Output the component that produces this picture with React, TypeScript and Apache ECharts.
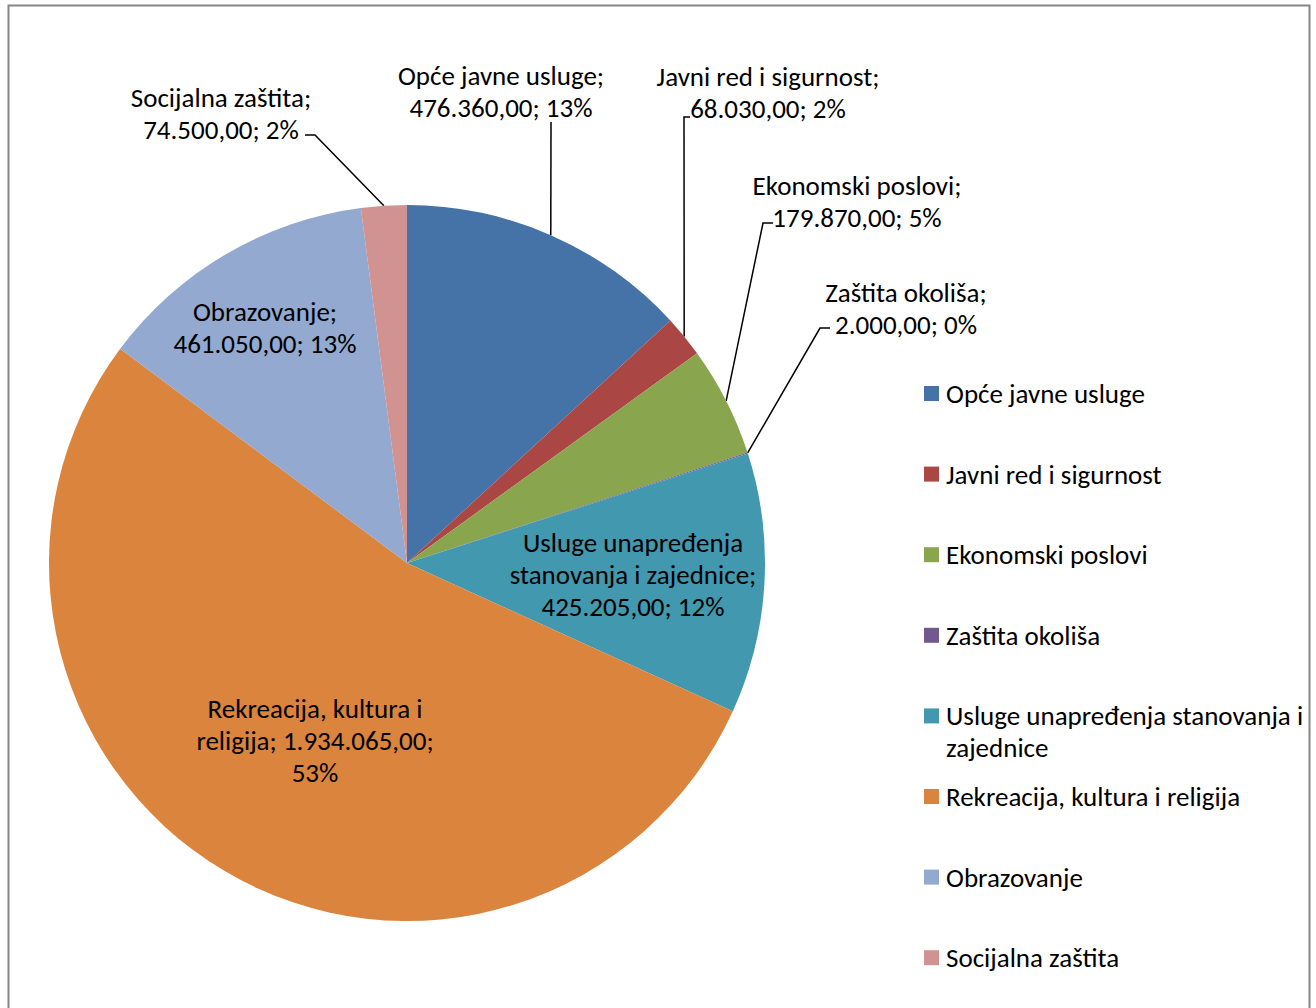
import React, { useEffect, useRef } from "react";
import * as echarts from "echarts";

const categories = [
  "Opće javne usluge",
  "Javni red i sigurnost",
  "Ekonomski poslovi",
  "Zaštita okoliša",
  "Usluge unapređenja stanovanja i zajednice",
  "Rekreacija, kultura i religija",
  "Obrazovanje",
  "Socijalna zaštita",
];
const values = [476360, 68030, 179870, 2000, 425205, 1934065, 461050, 74500];
const colors = ["#4572A7", "#AA4643", "#89A54E", "#71588F", "#4198AF", "#DB843D", "#93A9CF", "#D19392"];

// layout (not data): label block centres and leader-line tails
const labelCentres = [[501, 91], [768, 92], [857, 201], [906, 308], [633, 574], [315, 740], [265, 327], [221, 113]];
const leaderTails: (number[][] | null)[] = [
  [[551, 122]],
  [[684, 117], [690, 117]],
  [[763, 223], [773, 223]],
  [[820, 328], [830, 328]],
  null,
  null,
  null,
  [[315, 135], [305, 135]],
];

const CX = 407;
const CY = 563;
const R = 358;
const FONT = "Carlito, Lato, 'Open Sans', sans-serif";
const FS = 27;
const LH = 32;

const total = values.reduce((a, b) => a + b, 0);

function fmt(v: number) {
  const [i, d] = v.toFixed(2).split(".");
  return i.replace(/\B(?=(\d{3})+(?!\d))/g, ".") + "," + d;
}

function wrap(t: string, max: number) {
  const words = t.split(" ");
  const lines: string[] = [];
  let cur = "";
  for (const w of words) {
    if (!cur) cur = w;
    else if ((cur + " " + w).length <= max) cur += " " + w;
    else {
      lines.push(cur);
      cur = w;
    }
  }
  if (cur) lines.push(cur);
  return lines.join("\n");
}

function edgePoint(i: number) {
  let before = 0;
  for (let k = 0; k < i; k++) before += values[k];
  const mid = ((before + values[i] / 2) / total) * 2 * Math.PI;
  return [CX + R * Math.sin(mid), CY - R * Math.cos(mid)];
}

export default function App() {
  const ref = useRef<HTMLDivElement>(null);
  useEffect(() => {
    if (!ref.current) return;
    const chart = echarts.init(ref.current, undefined, { renderer: "svg" });
    const legendCommon = {
      orient: "vertical",
      left: 924,
      padding: 0,
      itemWidth: 15,
      itemHeight: 15,
      icon: "rect",
      selectedMode: false,
      textStyle: { fontFamily: FONT, fontSize: FS, lineHeight: LH, color: "#000", padding: [0, 0, 0, 2] },
    };
    chart.setOption({
      animation: false,
      backgroundColor: "#fff",
      graphic: [
        {
          type: "rect",
          silent: true,
          shape: { x: 8.5, y: 5.5, width: 1301, height: 1012 },
          style: { fill: "none", stroke: "#868686", lineWidth: 2 },
        },
      ],
      legend: [
        { ...legendCommon, top: 377.5, itemGap: 48.6, data: categories.slice(0, 4) },
        { ...legendCommon, top: 667.9, data: [categories[4]], formatter: (n: string) => "\n" + wrap(n, 31) },
        { ...legendCommon, top: 780.5, itemGap: 48.6, data: categories.slice(5) },
      ],
      series: [
        {
          type: "pie",
          center: [CX, CY],
          radius: R,
          startAngle: 90,
          clockwise: true,
          avoidLabelOverlap: false,
          emphasis: { disabled: true },
          data: categories.map((n, i) => ({
            name: n,
            value: values[i],
            itemStyle: { color: colors[i] },
            label: { position: leaderTails[i] ? "outside" : "inside" },
            labelLine: { show: !!leaderTails[i] },
          })),
          label: {
            show: true,
            formatter: (p: any) =>
              wrap(`${p.name}; ${fmt(p.value)}; ${Math.round((p.value / total) * 100)}%`, 23),
            color: "#000",
            fontFamily: FONT,
            fontSize: FS,
            lineHeight: LH,
            align: "center",
          },
          labelLine: { show: true, length: 10, length2: 10, lineStyle: { color: "#000", width: 1.5 } },
          labelLayout: (p: any) => {
            const i = p.dataIndex;
            const c = labelCentres[i];
            const out: any = { x: c[0], y: c[1], align: "center", verticalAlign: "middle" };
            const tail = leaderTails[i];
            if (tail) out.labelLinePoints = [edgePoint(i), ...tail];
            return out;
          },
        },
      ],
    });
    return () => chart.dispose();
  }, []);
  return (
    <div
      ref={ref}
      style={{ position: "absolute", left: 0, top: 0, width: 1316, height: 1008 }}
    />
  );
}
